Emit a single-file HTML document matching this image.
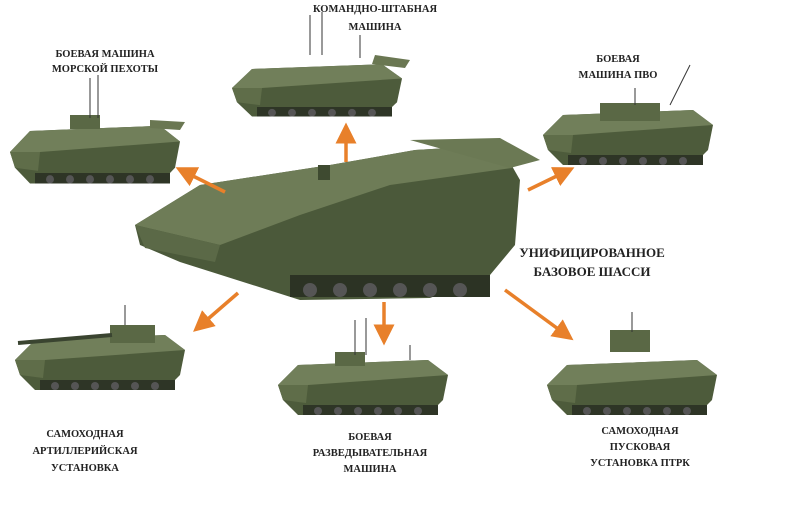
<!DOCTYPE html>
<html><head><meta charset="utf-8"><style>
html,body{margin:0;padding:0;background:#fff;}
svg{display:block}
text{font-family:"Liberation Serif",serif;font-weight:bold;fill:#222;font-size:10.5px;text-anchor:middle}
</style></head><body>
<svg width="800" height="523" viewBox="0 0 800 523" xmlns="http://www.w3.org/2000/svg">
<defs>
<marker id="ah" markerWidth="6" markerHeight="6" refX="3" refY="3" orient="auto" markerUnits="strokeWidth">
<path d="M0,0 L6,3 L0,6 Z" fill="#e8802a"/></marker>
<g id="veh">
<!-- generic small vehicle ~170x75 -->
<polygon points="0,40 20,20 150,15 170,30 165,55 150,70 20,70 5,55" fill="#4d5b3b"/>
<polygon points="0,40 20,20 150,15 170,30 30,40" fill="#717f5a"/>
<polygon points="0,40 30,40 28,58 5,55" fill="#5f6d49"/>
<rect x="25" y="60" width="135" height="10" fill="#2e3526"/>
<g fill="#555">
<circle cx="40" cy="66" r="4"/><circle cx="60" cy="66" r="4"/><circle cx="80" cy="66" r="4"/><circle cx="100" cy="66" r="4"/><circle cx="120" cy="66" r="4"/><circle cx="140" cy="66" r="4"/></g>
</g>
</defs>

<!-- top-left BMMP -->
<use href="#veh" transform="translate(10,110) scale(1.0,1.05)"/>
<rect x="70" y="115" width="30" height="14" fill="#5a6845"/>
<line x1="90" y1="78" x2="90" y2="118" stroke="#333"/><line x1="98" y1="75" x2="98" y2="118" stroke="#333"/>
<polygon points="150,120 185,122 180,130 150,128" fill="#6a7752"/>

<!-- top-center command -->
<use href="#veh" transform="translate(232,50) scale(1.0,0.95)"/>
<line x1="310" y1="15" x2="310" y2="55" stroke="#333"/><line x1="322" y1="12" x2="322" y2="55" stroke="#333"/>
<line x1="360" y1="35" x2="360" y2="58" stroke="#333"/>
<polygon points="375,55 410,60 405,68 372,64" fill="#6a7752"/>

<!-- top-right PVO -->
<use href="#veh" transform="translate(543,95) scale(1.0,1.0)"/>
<rect x="600" y="103" width="60" height="18" fill="#5a6845"/>
<line x1="690" y1="65" x2="670" y2="105" stroke="#333"/>
<line x1="635" y1="88" x2="635" y2="105" stroke="#333"/>

<!-- central base chassis -->
<polygon points="135,225 200,185 330,165 415,150 500,145 520,180 515,245 490,275 430,298 300,300 180,262 140,245" fill="#4b593a"/>
<polygon points="135,225 200,185 330,165 415,150 500,145 512,168 390,185 300,215 220,245" fill="#6e7c57"/>
<polygon points="135,225 220,245 215,262 145,248" fill="#5b6947"/>
<polygon points="410,140 500,138 540,160 510,168" fill="#6b7954"/>
<rect x="318" y="165" width="12" height="15" fill="#3e4a30"/>
<rect x="290" y="275" width="200" height="22" fill="#2c3324"/>
<g fill="#555"><circle cx="310" cy="290" r="7"/><circle cx="340" cy="290" r="7"/><circle cx="370" cy="290" r="7"/><circle cx="400" cy="290" r="7"/><circle cx="430" cy="290" r="7"/><circle cx="460" cy="290" r="7"/></g>

<!-- bottom-left artillery -->
<use href="#veh" transform="translate(15,320) scale(1.0,1.0)"/>
<rect x="110" y="325" width="45" height="18" fill="#5a6845"/>
<line x1="18" y1="343" x2="112" y2="335" stroke="#3a4430" stroke-width="4"/>
<line x1="125" y1="305" x2="125" y2="325" stroke="#333"/>

<!-- bottom-center recon -->
<use href="#veh" transform="translate(278,345) scale(1.0,1.0)"/>
<rect x="335" y="352" width="30" height="14" fill="#5a6845"/>
<line x1="355" y1="320" x2="355" y2="355" stroke="#333"/><line x1="366" y1="318" x2="366" y2="355" stroke="#333"/>
<line x1="410" y1="345" x2="410" y2="360" stroke="#333"/>

<!-- bottom-right PTRK -->
<use href="#veh" transform="translate(547,345) scale(1.0,1.0)"/>
<rect x="610" y="330" width="40" height="22" fill="#5a6845"/>
<line x1="632" y1="312" x2="632" y2="332" stroke="#333"/>

<!-- arrows -->
<g stroke="#e8802a" stroke-width="3.5" fill="none" marker-end="url(#ah)">
<line x1="225" y1="192" x2="185" y2="172"/>
<line x1="346" y1="162" x2="346" y2="133"/>
<line x1="528" y1="190" x2="565" y2="172"/>
<line x1="238" y1="293" x2="201" y2="325"/>
<line x1="384" y1="302" x2="384" y2="335"/>
<line x1="505" y1="290" x2="565" y2="334"/>
</g>

<!-- labels -->
<text x="375" y="12">КОМАНДНО-ШТАБНАЯ</text>
<text x="375" y="30">МАШИНА</text>
<text x="105" y="57">БОЕВАЯ МАШИНА</text>
<text x="105" y="72">МОРСКОЙ ПЕХОТЫ</text>
<text x="618" y="62">БОЕВАЯ</text>
<text x="618" y="78">МАШИНА ПВО</text>
<text x="592" y="257" style="font-size:13px">УНИФИЦИРОВАННОЕ</text>
<text x="592" y="276" style="font-size:13px">БАЗОВОЕ ШАССИ</text>
<text x="85" y="437">САМОХОДНАЯ</text>
<text x="85" y="454">АРТИЛЛЕРИЙСКАЯ</text>
<text x="85" y="471">УСТАНОВКА</text>
<text x="370" y="440">БОЕВАЯ</text>
<text x="370" y="456">РАЗВЕДЫВАТЕЛЬНАЯ</text>
<text x="370" y="472">МАШИНА</text>
<text x="640" y="434">САМОХОДНАЯ</text>
<text x="640" y="450">ПУСКОВАЯ</text>
<text x="640" y="466">УСТАНОВКА ПТРК</text>
</svg>
</body></html>
